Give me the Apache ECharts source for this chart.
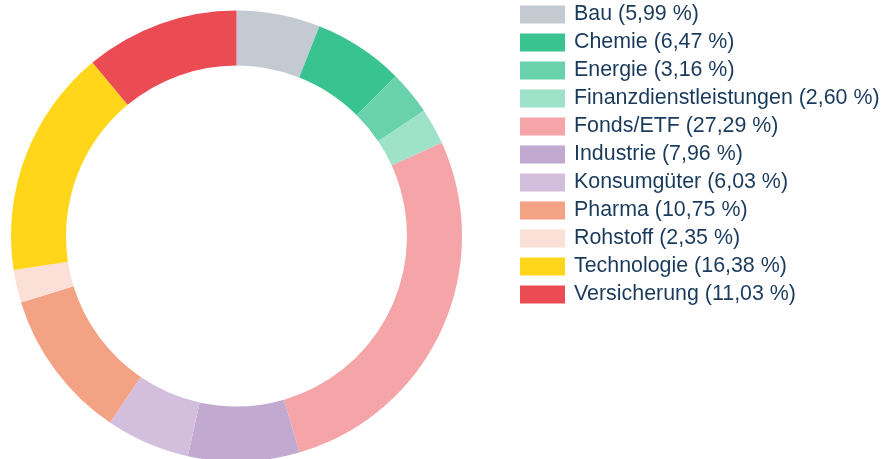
<!DOCTYPE html>
<html>
<head>
<meta charset="utf-8">
<script src="https://cdn.jsdelivr.net/npm/echarts@6/dist/echarts.min.js"></script>
<style>
  html, body { margin: 0; padding: 0; background: #fff; }
  #chart { width: 884px; height: 459px; }
</style>
</head>
<body>
<div id="chart"></div>
<script>
// Branchenverteilung
var sectors = ["Bau", "Chemie", "Energie", "Finanzdienstleistungen", "Fonds/ETF", "Industrie",
  "Konsumgüter", "Pharma", "Rohstoff", "Technologie", "Versicherung"];
var shares = [5.99, 6.47, 3.16, 2.60, 27.29, 7.96, 6.03, 10.75, 2.35, 16.38, 11.03];
var colors = ["#c3cad2", "#38c391", "#69d1ac", "#9de2c9", "#f5a5a8", "#c2a9cf",
  "#d3bfdd", "#f4a284", "#fae0d7", "#ffd619", "#eb4b53"];

var chart = echarts.init(document.getElementById("chart"));

var pieData = sectors.map(function (name, i) {
  return { name: name, value: shares[i] };
});

var option = {
  color: colors,
  animation: false,
  legend: {
    orient: "vertical",
    left: 520,
    top: 4,
    padding: 0,
    itemWidth: 45,
    itemHeight: 18,
    itemGap: 7,
    icon: "rect",
    selectedMode: false,
    textStyle: {
      fontFamily: "Liberation Sans, Arial, sans-serif",
      fontSize: 21.4,
      color: "#1a3a5c",
      padding: [0, 0, 0, 4]
    },
    formatter: function (name) {
      var v = shares[sectors.indexOf(name)];
      return name + " (" + v.toFixed(2).replace(".", ",") + " %)";
    },
    data: sectors
  },
  series: [
    {
      name: "Branchen",
      type: "pie",
      center: [236.5, 236],
      radius: [170.5, 225.5],
      startAngle: 90,
      clockwise: true,
      label: { show: false },
      labelLine: { show: false },
      emphasis: { scale: false },
      data: pieData
    }
  ]
};

chart.setOption(option);
</script>
</body>
</html>
